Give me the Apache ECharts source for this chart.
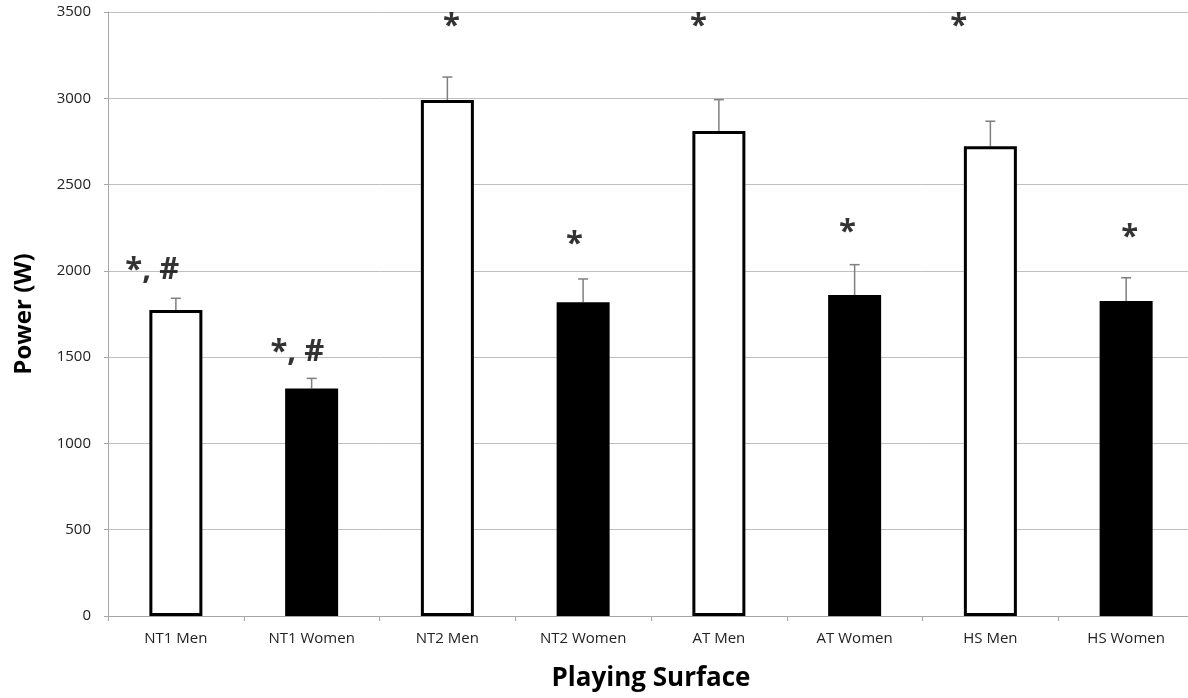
<!DOCTYPE html>
<html><head><meta charset="utf-8">
<script src="https://cdn.jsdelivr.net/npm/echarts@6/dist/echarts.min.js"></script>
<style>html,body{margin:0;padding:0;background:#fff;overflow:hidden}#chart{width:1194px;height:698px}</style>
</head><body><div id="chart"></div>
<script>
const categories = ['NT1 Men','NT1 Women','NT2 Men','NT2 Women','AT Men','AT Women','HS Men','HS Women'];
const powerMeans = [1773, 1319, 2990, 1818, 2810, 1860, 2722, 1825];
const powerErrors = [68, 58, 133, 135, 182, 176, 145, 135];
const annotationTexts = ['*, #','*, #','*','*','*','*','*','*'];
const annotationX = [0.326, 1.395, 2.53, 3.436, 4.35, 5.448, 6.266, 7.526];
const annotationY = [2005, 1530, 3420, 2155, 3420, 2225, 3420, 2196];

const chart = echarts.init(document.getElementById('chart'));
const FONT = 'Open Sans';

const barData = powerMeans.map((v, i) => ({
  value: v,
  itemStyle: categories[i].indexOf('Women') >= 0
    ? { color: '#000', borderColor: '#000', borderWidth: 3 }
    : { color: '#fff', borderColor: '#000', borderWidth: 3 }
}));
const errData = powerMeans.map((v, i) => [i, v, v + powerErrors[i]]);
const annData = annotationX.map((x, i) => [x, annotationY[i], annotationTexts[i]]);

chart.setOption({
  animation: false,
  backgroundColor: '#fff',
  grid: { left: 108, right: 0, top: 12, bottom: 82 },
  xAxis: [{
    type: 'category',
    data: categories,
    name: 'Playing Surface',
    nameLocation: 'middle',
    nameGap: 50,
    nameTextStyle: { fontFamily: FONT, fontSize: 26, fontWeight: 'bold', color: '#000' },
    axisLine: { lineStyle: { color: '#a6a6a6', width: 1 } },
    axisTick: { show: true, length: 5, lineStyle: { color: '#a6a6a6' } },
    axisLabel: { fontFamily: FONT, fontSize: 15, color: '#222', margin: 15 },
    splitLine: { show: false }
  }, {
    type: 'value', min: 0, max: 8, show: false
  }],
  yAxis: {
    type: 'value',
    min: 0, max: 3500, interval: 500,
    name: 'Power (W)',
    nameLocation: 'middle',
    nameGap: 72,
    nameTextStyle: { fontFamily: FONT, fontSize: 24, fontWeight: 'bold', color: '#000' },
    axisLine: { show: true, lineStyle: { color: '#a6a6a6', width: 1 } },
    axisTick: { show: true, length: 4, lineStyle: { color: '#a6a6a6' } },
    axisLabel: { fontFamily: FONT, fontSize: 15, color: '#222', margin: 17, formatter: v => String(v) },
    splitLine: { lineStyle: { color: '#bfbfbf', width: 1 } }
  },
  series: [{
    type: 'bar',
    data: barData,
    barWidth: 53,
    z: 3
  }, {
    type: 'custom',
    data: errData,
    z: 2,
    renderItem: function (params, api) {
      const i = api.value(0);
      const lo = api.coord([i, api.value(1)]);
      const hi = api.coord([i, api.value(2)]);
      const cap = 5;
      const st = { stroke: '#7f7f7f', lineWidth: 1.5 };
      return {
        type: 'group',
        children: [
          { type: 'line', shape: { x1: lo[0], y1: lo[1], x2: hi[0], y2: hi[1] }, style: st },
          { type: 'line', shape: { x1: hi[0] - cap, y1: hi[1], x2: hi[0] + cap, y2: hi[1] }, style: st }
        ]
      };
    }
  }, {
    type: 'scatter',
    xAxisIndex: 1,
    data: annData,
    symbolSize: 0,
    z: 5,
    label: {
      show: true,
      position: 'inside',
      formatter: p => p.data[2],
      fontFamily: FONT,
      fontSize: 31,
      fontWeight: 'bold',
      color: '#000'
    }
  }]
});
</script></body></html>
